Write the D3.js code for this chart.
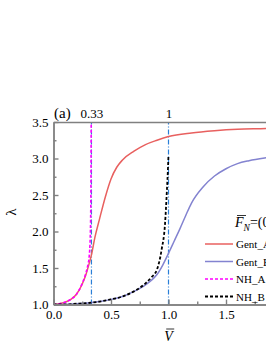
<!DOCTYPE html>
<html lang="en">
<head>
    <meta charset="UTF-8">
    <title>Lambda vs V</title>
    <style>
        body { margin: 0; background: #fff; }
        svg text { fill: #000; }
        .axis path, .axis line { stroke: #808080; stroke-width: 1.4; }
        .axis text { font-size: 13px; }
    </style>
    <script src="https://d3js.org/d3.v7.min.js"></script>
</head>
<body>
    <div id="chart"></div>

    <script>
        // Gent model, case A
        var gentA_V = [0, 0.05, 0.1, 0.15, 0.2, 0.25, 0.28, 0.31, 0.33, 0.36, 0.4, 0.45, 0.5, 0.55, 0.6, 0.7, 0.8, 0.9, 1.0, 1.2, 1.4, 1.6, 1.85, 2.0];
        var gentA_L = [1.0, 1.01, 1.03, 1.07, 1.14, 1.28, 1.40, 1.56, 1.68, 1.92, 2.17, 2.47, 2.72, 2.88, 2.98, 3.10, 3.19, 3.25, 3.30, 3.35, 3.38, 3.40, 3.41, 3.42];
        // Gent model, case B
        var gentB_V = [0, 0.1, 0.2, 0.3, 0.4, 0.5, 0.6, 0.7, 0.8, 0.85, 0.9, 0.95, 1.0, 1.05, 1.1, 1.15, 1.2, 1.3, 1.4, 1.5, 1.6, 1.7, 1.85, 2.0];
        var gentB_L = [1.0, 1.0, 1.01, 1.02, 1.04, 1.07, 1.11, 1.18, 1.27, 1.33, 1.41, 1.54, 1.70, 1.87, 2.04, 2.22, 2.39, 2.61, 2.76, 2.86, 2.93, 2.97, 3.01, 3.04];
        // neo-Hookean, case A
        var nhA_V = [0, 0.05, 0.1, 0.15, 0.2, 0.25, 0.28, 0.3, 0.31, 0.32, 0.325, 0.328];
        var nhA_L = [1.0, 1.01, 1.03, 1.07, 1.14, 1.29, 1.42, 1.55, 1.65, 1.95, 2.5, 3.5];
        // neo-Hookean, case B
        var nhB_V = [0, 0.1, 0.2, 0.3, 0.4, 0.5, 0.6, 0.7, 0.8, 0.85, 0.9, 0.94, 0.97, 0.986, 0.995, 1.0];
        var nhB_L = [1.0, 1.0, 1.01, 1.02, 1.04, 1.07, 1.11, 1.18, 1.29, 1.37, 1.48, 1.75, 2.11, 2.56, 2.85, 3.05];

        var critV = [0.33, 1];
        var critLabels = ['0.33', '1'];
        var yTicks = [1.0, 1.5, 2.0, 2.5, 3.0, 3.5];
        var xTicks = [0.0, 0.5, 1.0, 1.5];

        var seriesNames = ['Gent_A', 'Gent_B', 'NH_A', 'NH_B'];
        var seriesColors = ['#e8605f', '#8383d0', '#ff00ff', '#000000'];
        var seriesDash = [null, null, '3,2', '3,2'];
        var seriesWidth = [1.5, 1.5, 1.6, 1.8];

        var SERIF = "'Liberation Serif', 'DejaVu Serif', 'Noto Serif', 'Times New Roman', serif";

        var W = 266, H = 344;
        var svg = d3.select('#chart').append('svg')
            .attr('width', W).attr('height', H)
            .attr('font-family', SERIF);

        var x = d3.scaleLinear().domain([0, 2]).range([53.5, 283.5]);
        var y = d3.scaleLinear().domain([1, 3.5]).range([304.5, 122]);

        svg.append('clipPath').attr('id', 'plot')
            .append('rect').attr('x', x(0)).attr('y', y(3.5))
            .attr('width', x(2) - x(0)).attr('height', y(1) - y(3.5));

        // dash-dot guide lines
        svg.selectAll('.guide').data(critV).enter().append('line')
            .attr('class', 'guide')
            .attr('x1', d => x(d)).attr('x2', d => x(d))
            .attr('y1', y(1)).attr('y2', y(3.5))
            .attr('stroke', '#2a7fd8').attr('stroke-width', 1.2)
            .attr('stroke-dasharray', '5,2,1,2');

        var series = [
            { V: gentA_V, L: gentA_L },
            { V: gentB_V, L: gentB_L },
            { V: nhA_V, L: nhA_L },
            { V: nhB_V, L: nhB_L }
        ];

        var line = d3.line().curve(d3.curveMonotoneX)
            .x(d => x(d[0])).y(d => y(d[1]));

        var g = svg.append('g').attr('clip-path', 'url(#plot)');
        series.forEach(function(s, i) {
            g.append('path')
                .datum(d3.zip(s.V, s.L))
                .attr('d', line)
                .attr('fill', 'none')
                .attr('stroke', seriesColors[i])
                .attr('stroke-width', seriesWidth[i])
                .attr('stroke-dasharray', seriesDash[i]);
        });

        // axes
        function styleAxis(sel) {
            sel.attr('font-family', SERIF).attr('font-size', null);
        }
        svg.append('g').attr('class', 'axis')
            .attr('transform', 'translate(0,' + y(1) + ')')
            .call(d3.axisBottom(x).tickValues(xTicks).tickFormat(d3.format('.1f'))
                .tickSizeInner(-5).tickSizeOuter(0).tickPadding(5))
            .call(styleAxis);
        svg.append('g').attr('class', 'axis')
            .attr('transform', 'translate(0,' + y(1) + ')')
            .call(d3.axisBottom(x).tickValues(d3.range(0.25, 2, 0.5)).tickFormat('')
                .tickSizeInner(-3).tickSizeOuter(0))
            .call(styleAxis);

        svg.append('g').attr('class', 'axis')
            .attr('transform', 'translate(' + x(0) + ',0)')
            .call(d3.axisLeft(y).tickValues(yTicks).tickFormat(d3.format('.1f'))
                .tickSizeInner(-5).tickSizeOuter(0).tickPadding(5))
            .call(styleAxis);
        svg.append('g').attr('class', 'axis')
            .attr('transform', 'translate(' + x(0) + ',0)')
            .call(d3.axisLeft(y).tickValues(d3.range(1.25, 3.5, 0.5)).tickFormat('')
                .tickSizeInner(-3).tickSizeOuter(0))
            .call(styleAxis);

        svg.append('g').attr('class', 'axis')
            .attr('transform', 'translate(0,' + y(3.5) + ')')
            .call(d3.axisTop(x).tickValues(critV).tickFormat((d, i) => critLabels[i])
                .tickSizeInner(0).tickSizeOuter(0).tickPadding(4))
            .call(styleAxis);

        // panel label and axis titles
        svg.append('text').attr('x', 54).attr('y', 118)
            .attr('font-size', 15).text('(a)');

        svg.append('text')
            .attr('transform', 'translate(16,212) rotate(-90)')
            .attr('text-anchor', 'middle')
            .attr('font-size', 15).text('λ');

        var vLab = svg.append('text').attr('x', x(1)).attr('y', 341)
            .attr('text-anchor', 'middle')
            .attr('font-size', 14).attr('font-style', 'italic').text('V');
        var vb = vLab.node().getBBox();
        svg.append('line')
            .attr('x1', vb.x + 2).attr('x2', vb.x + vb.width)
            .attr('y1', 329).attr('y2', 329)
            .attr('stroke', '#000').attr('stroke-width', 0.8);

        // legend
        var fn = svg.append('text').attr('x', 235).attr('y', 227)
            .attr('font-size', 14);
        fn.append('tspan').attr('font-style', 'italic').text('F');
        fn.append('tspan').attr('font-style', 'italic').attr('font-size', 9.5)
            .attr('dy', 4).text('N');
        fn.append('tspan').attr('dy', -4).text('=(0.1)');
        svg.append('line')
            .attr('x1', 237).attr('x2', 246).attr('y1', 215.5).attr('y2', 215.5)
            .attr('stroke', '#000').attr('stroke-width', 0.8);

        var leg = svg.append('g');
        seriesNames.forEach(function(name, i) {
            var ly = 244 + i * 17.5;
            leg.append('line')
                .attr('x1', 205).attr('x2', 233).attr('y1', ly).attr('y2', ly)
                .attr('stroke', seriesColors[i])
                .attr('stroke-width', seriesWidth[i])
                .attr('stroke-dasharray', seriesDash[i]);
            leg.append('text').attr('x', 236).attr('y', ly + 4)
                .attr('font-size', 11).text(name);
        });
    </script>
</body>
</html>
